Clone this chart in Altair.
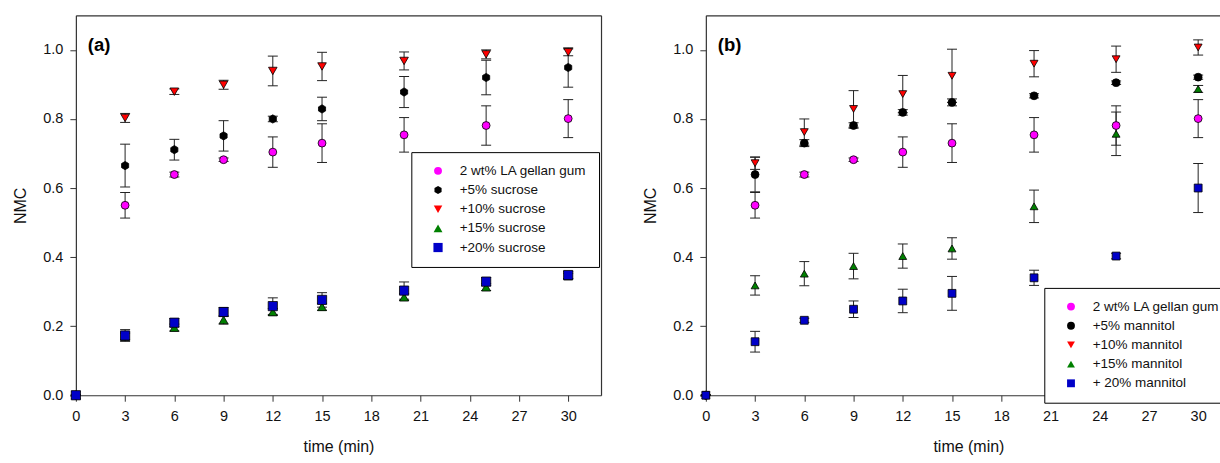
import altair as alt
import pandas as pd

# ---------------- data ----------------
times = [0, 3, 6, 9, 12, 15, 20, 25, 30]

gellan = [0, 0.550, 0.639, 0.682, 0.704, 0.730, 0.754, 0.781, 0.801]
gellan_err = [0, 0.037, 0.007, 0.005, 0.044, 0.056, 0.050, 0.057, 0.055]

suc5 = [0, 0.665, 0.711, 0.751, 0.800, 0.829, 0.878, 0.920, 0.949]
suc5_err = [0, 0.062, 0.030, 0.044, 0.008, 0.034, 0.045, 0.050, 0.057]
suc10 = [0, 0.803, 0.879, 0.899, 0.939, 0.952, 0.968, 0.987, 0.993]
suc10_err = [0, 0.013, 0.008, 0.013, 0.043, 0.041, 0.026, 0.013, 0.010]
suc15 = [0, 0.170, 0.196, 0.218, 0.241, 0.256, 0.284, 0.313, 0.345]
suc15_err = [0, 0.010, 0.010, 0.012, 0.010, 0.010, 0.010, 0.010, 0.008]
suc20 = [0, 0.173, 0.210, 0.241, 0.258, 0.276, 0.303, 0.329, 0.348]
suc20_err = [0, 0.017, 0.012, 0.013, 0.024, 0.021, 0.025, 0.012, 0.010]

man5 = [0, 0.639, 0.730, 0.781, 0.819, 0.848, 0.867, 0.905, 0.921]
man5_err = [0, 0.050, 0.010, 0.008, 0.008, 0.010, 0.006, 0.005, 0.006]
man10 = [0, 0.672, 0.762, 0.829, 0.872, 0.925, 0.960, 0.973, 1.007]
man10_err = [0, 0.018, 0.038, 0.053, 0.054, 0.077, 0.038, 0.038, 0.022]
man15 = [0, 0.318, 0.352, 0.374, 0.403, 0.425, 0.547, 0.757, 0.887]
man15_err = [0, 0.028, 0.035, 0.037, 0.035, 0.031, 0.047, 0.063, 0.010]
man20 = [0, 0.155, 0.217, 0.249, 0.273, 0.295, 0.340, 0.403, 0.600]
man20_err = [0, 0.030, 0.006, 0.024, 0.034, 0.049, 0.022, 0.008, 0.071]

names_a = ["2 wt% LA gellan gum", "+5% sucrose", "+10% sucrose", "+15% sucrose", "+20% sucrose"]
names_b = ["2 wt% LA gellan gum", "+5% mannitol", "+10% mannitol", "+15% mannitol", "+ 20% mannitol"]

colors = ["#FF00FF", "#000000", "#FF0000", "#008000", "#0000C8"]
hexagon = "M0,-1L0.866,-0.5L0.866,0.5L0,1L-0.866,0.5L-0.866,-0.5Z"
shapes_a = ["circle", hexagon, "triangle-down", "triangle-up", "square"]
shapes_b = ["circle", "circle", "triangle-down", "triangle-up", "square"]
sizes_a = [62, 85, 80, 80, 64]
sizes_b = [62, 62, 80, 80, 64]

x_ticks = [0, 3, 6, 9, 12, 15, 18, 21, 24, 27, 30]
y_ticks = [0.0, 0.2, 0.4, 0.6, 0.8, 1.0]

FONT = "Liberation Sans"
FRAME = "#333"


def build_df(names, series, errs):
    rows = []
    for order, (name, vals, es) in enumerate(zip(names, series, errs)):
        for t, v, e in zip(times, vals, es):
            rows.append({"time": t, "NMC": v, "lo": v - e, "hi": v + e,
                         "series": name, "order": order})
    return pd.DataFrame(rows)


def panel(names, series, errs, shapes, sizes, label, lx, ly, right_frame):
    df = build_df(names, series, errs)
    base = alt.Chart(df)
    xscale = alt.Scale(domain=[0, 32], nice=False, zero=False)
    yscale = alt.Scale(domain=[0, 1.1], nice=False)
    bottom_axis = alt.Axis(values=x_ticks, title="time (min)", labelFlush=False)
    left_axis = alt.Axis(values=y_ticks, format=".1f", title="NMC")
    top_axis = alt.Axis(orient="top", labels=False, ticks=False, title=None, domain=True)
    right_axis = (alt.Axis(orient="right", labels=False, ticks=False, title=None, domain=True)
                  if right_frame else None)

    rule = base.mark_rule(color="#222", strokeWidth=1, opacity=1).encode(
        x=alt.X("time:Q", scale=xscale, axis=bottom_axis),
        y=alt.Y("lo:Q", scale=yscale, axis=left_axis), y2="hi:Q")
    cap_lo = base.mark_tick(orient="horizontal", size=10, thickness=1, color="#222", opacity=1).encode(
        x=alt.X("time:Q", axis=None), y=alt.Y("lo:Q", axis=None))
    cap_hi = base.mark_tick(orient="horizontal", size=10, thickness=1, color="#222", opacity=1).encode(
        x=alt.X("time:Q", axis=None), y=alt.Y("hi:Q", axis=None))

    leg = alt.Legend(title=None, orient="none", legendX=lx, legendY=ly,
                     strokeColor="black", fillColor="white", padding=12,
                     rowPadding=4.2, labelFontSize=13.5, labelFont=FONT, labelColor="#111",
                     symbolSize=60, symbolStrokeColor="black", symbolStrokeWidth=0.8,
                     symbolOpacity=1, symbolOffset=8, labelOffset=15, labelLimit=300)
    pts = base.mark_point(filled=True, opacity=1, stroke="black", strokeWidth=0.8).encode(
        x=alt.X("time:Q", axis=top_axis),
        y=alt.Y("NMC:Q", axis=right_axis),
        color=alt.Color("series:N", scale=alt.Scale(domain=names, range=colors), legend=leg),
        shape=alt.Shape("series:N", scale=alt.Scale(domain=names, range=shapes), legend=leg),
        size=alt.Size("series:N", scale=alt.Scale(domain=names, range=sizes), legend=None),
        order=alt.Order("order:Q"))

    txt = alt.Chart(pd.DataFrame({"label": [label]})).mark_text(
        align="left", baseline="middle", fontSize=18.5, fontWeight="bold", font=FONT).encode(
        text="label:N", x=alt.value(12), y=alt.value(29.5))

    return alt.layer(rule, cap_lo, cap_hi, pts, txt).resolve_axis(
        x="independent", y="independent").properties(width=526, height=380.5)


pa = panel(names_a, [gellan, suc5, suc10, suc15, suc20],
           [gellan_err, suc5_err, suc10_err, suc15_err, suc20_err], shapes_a, sizes_a,
           "(a)", 336, 137, True)
pb = panel(names_b, [gellan, man5, man10, man15, man20],
           [gellan_err, man5_err, man10_err, man15_err, man20_err], shapes_b, sizes_b,
           "(b)", 339, 273, False)

chart = alt.hconcat(pa, pb, spacing=41).resolve_scale(
    color="independent", shape="independent", size="independent"
).properties(
    padding={"left": 12, "top": 15, "right": -13, "bottom": 5}
).configure_view(
    stroke=None
).configure_axis(
    grid=False, domainColor=FRAME, domainWidth=1.2, tickColor=FRAME, tickSize=6,
    labelFont=FONT, labelFontSize=14.5, labelColor="#111",
    titleFont=FONT, titleFontSize=16, titleFontWeight="normal", titleColor="#111"
).configure_axisY(titlePadding=14.5, labelPadding=7).configure_axisX(titlePadding=15.5, labelPadding=8)

chart.save("out.html", embed_options={"renderer": "svg", "actions": False})
